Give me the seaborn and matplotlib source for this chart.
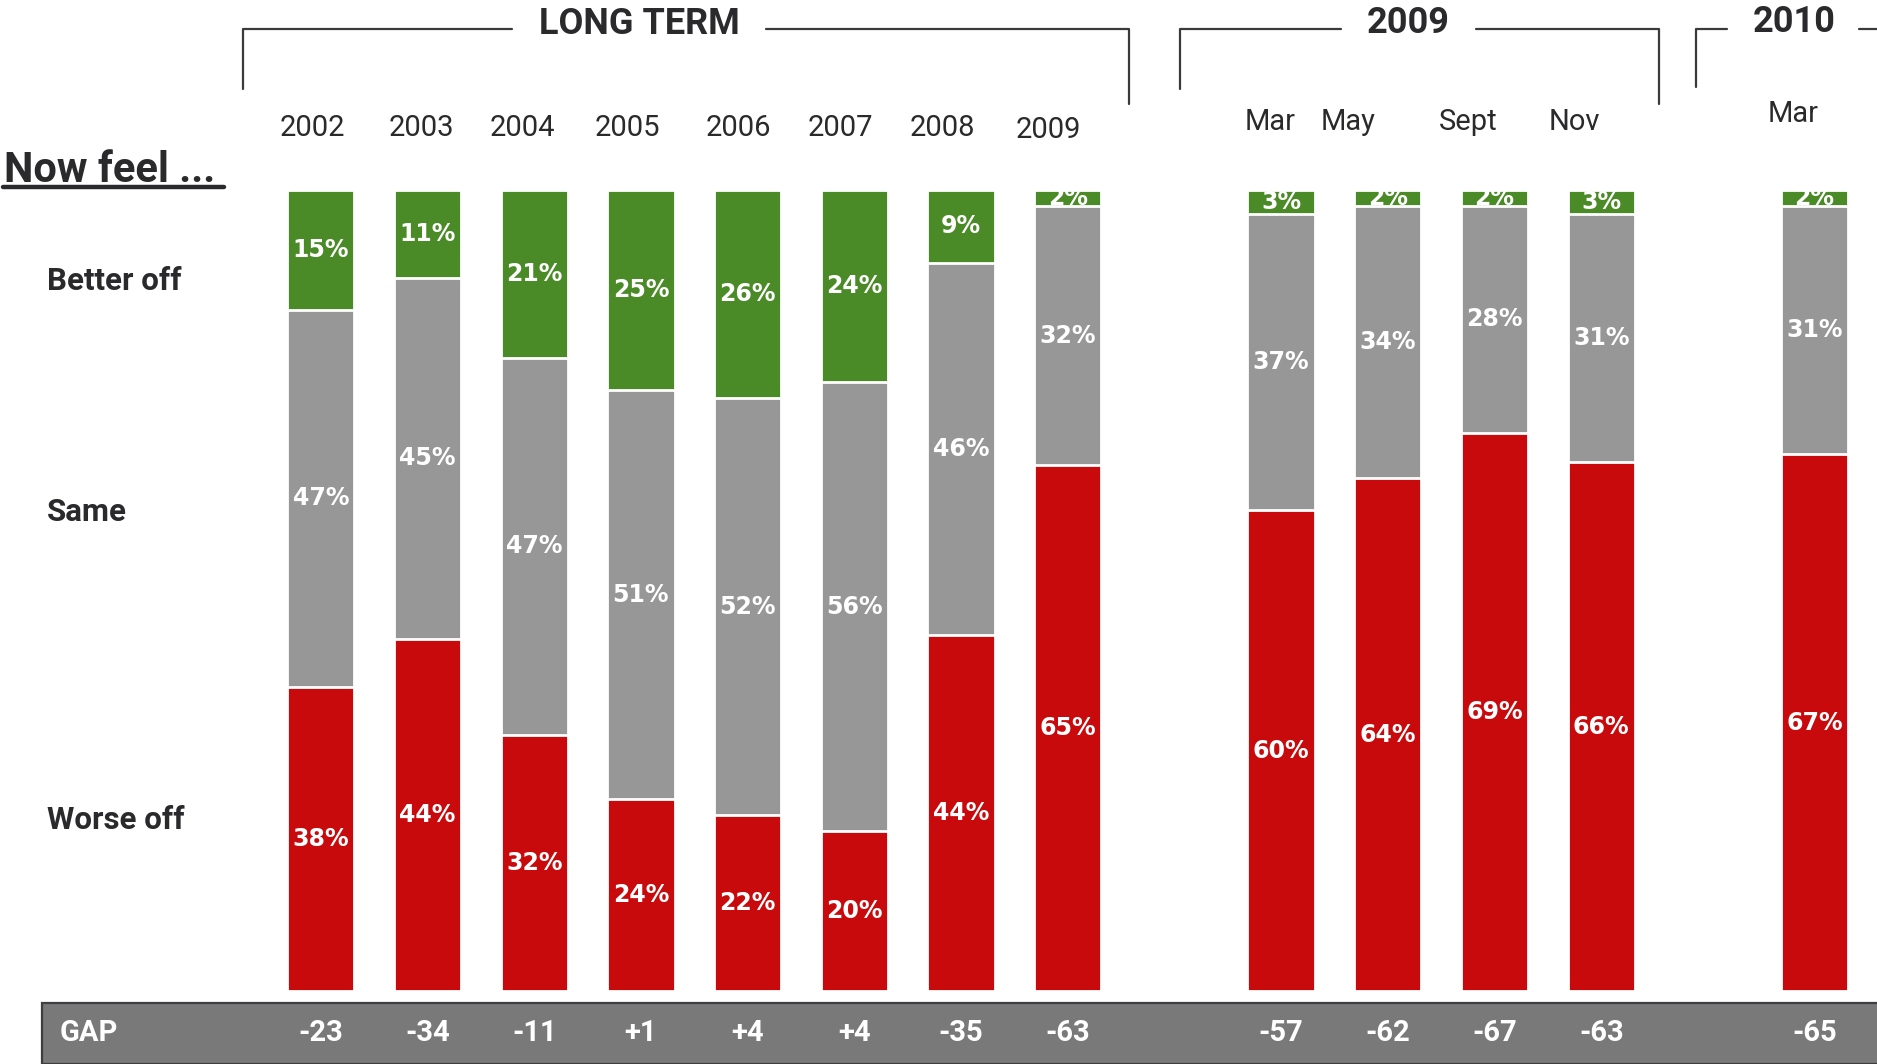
import numpy as np
import pandas as pd
import matplotlib
matplotlib.use("Agg")
import matplotlib.pyplot as plt
import matplotlib.transforms as mtransforms
from matplotlib.patches import Rectangle
from matplotlib.lines import Line2D
import seaborn as sns

# ---- data -------------------------------------------------------------
periods = ["2002", "2003", "2004", "2005", "2006", "2007", "2008", "2009",
           "Mar", "May", "Sept", "Nov", "Mar"]
slots = [0, 1, 2, 3, 4, 5, 6, 7, 9, 10, 11, 12, 14]
better = [15, 11, 21, 25, 26, 24, 9, 2, 3, 2, 2, 3, 2]
same = [47, 45, 47, 51, 52, 56, 46, 32, 37, 34, 28, 31, 31]
worse = [38, 44, 32, 24, 22, 20, 44, 65, 60, 64, 69, 66, 67]
gap = [-23, -34, -11, 1, 4, 4, -35, -63, -57, -62, -67, -63, -65]
row_labels = ["Better off", "Same", "Worse off"]
group_titles = ["LONG TERM", "2009", "2010"]

# ---- style ------------------------------------------------------------
GREEN = "#4a8a27"
GREY = "#979797"
RED = "#c80a0c"
INK = "#2a2a2c"
BAND = "#797979"

sns.set_theme(style="white")
plt.rcParams["font.family"] = ["Roboto", "DejaVu Sans"]

W, H = 1877, 1064
fig = plt.figure(figsize=(W / 100, H / 100), dpi=100)
fig.patch.set_facecolor("white")


def fx(px):
    return px / W


def fy(py):
    return 1 - py / H


# plotting area spans the bars: bottom at y=991px, 100% at y=190px
ax = fig.add_axes([0, fy(991), 1, (991 - 190) / H])

# 100% stacked shares
b = np.array(better, float)
s = np.array(same, float)
w = np.array(worse, float)
tot = b + s + w
b_n, s_n, w_n = b / tot * 100, s / tot * 100, w / tot * 100

df = pd.DataFrame({
    "slot": slots,
    "top": b_n + s_n + w_n,
    "mid": s_n + w_n,
    "low": w_n,
})

for col, color in [("top", GREEN), ("mid", GREY), ("low", RED)]:
    sns.barplot(data=df, x="slot", y=col, native_scale=True, orient="x",
                color=color, saturation=1, width=0.63, edgecolor="white",
                linewidth=2, errorbar=None, ax=ax)

x_left = -320.8 / 106.7
x_right = (W - 320.8) / 106.7
ax.set_xlim(x_left, x_right)
ax.set_ylim(0, 100)
ax.axis("off")
ax.patch.set_visible(False)

# percentage labels inside the segments
for i, x in enumerate(slots):
    segs = [(0, w_n[i], worse[i]), (w_n[i], s_n[i], same[i]),
            (w_n[i] + s_n[i], b_n[i], better[i])]
    for bottom, height, val in segs:
        ax.text(x, bottom + height / 2, f"{val}%", ha="center", va="center",
                color="white", fontsize=17, fontweight="bold",
                family=["DejaVu Sans"], clip_on=True, zorder=5)

# period labels above the bars
label_dx = [-0.08, -0.06, -0.11, -0.13, -0.09, -0.13, -0.17, -0.18,
            -0.10, -0.37, -0.25, -0.25, -0.20]
label_y = [128] * 7 + [130] + [122] * 4 + [114]
tr_top = mtransforms.blended_transform_factory(ax.transData, fig.transFigure)
for x, dx, y, name in zip(slots, label_dx, label_y, periods):
    ax.text(x + dx, fy(y), name, transform=tr_top, ha="center", va="center",
            fontsize=21, color=INK, clip_on=False)

# group headers with brackets
line_kw = dict(color="#3a3a3c", linewidth=1.6, transform=fig.transFigure)
brackets = [
    ([243, 243, 512], [89, 29, 29]),
    ([766, 1129, 1129], [29, 29, 104]),
    ([1180, 1180, 1341], [89, 29, 29]),
    ([1476, 1659, 1659], [29, 29, 104]),
    ([1696, 1696, 1727], [87, 29, 29]),
    ([1859, 1877], [29, 29]),
]
for xs, ys in brackets:
    fig.add_artist(Line2D([fx(v) for v in xs], [fy(v) for v in ys], **line_kw))

for title, (px, py) in zip(group_titles, [(639, 24), (1408, 23), (1794, 22)]):
    fig.text(fx(px), fy(py), title, ha="center", va="center", fontsize=26,
             fontweight="bold", color=INK)

# left-hand captions
fig.text(fx(4), fy(182), "Now feel ...", ha="left", va="baseline",
         fontsize=30, fontweight="bold", color=INK)
fig.add_artist(Line2D([fx(3), fx(224)], [fy(187), fy(187)], color=INK,
                      linewidth=3.2, transform=fig.transFigure))
for name, py in zip(row_labels, [281, 512, 820]):
    fig.text(fx(47), fy(py), name, ha="left", va="center", fontsize=22.5,
             fontweight="bold", color=INK)

# GAP band along the bottom, drawn beneath the axes content
fig.add_artist(Rectangle((fx(42), fy(1064)), fx(W + 20) - fx(42),
                         fy(1003) - fy(1064), transform=fig.transFigure,
                         facecolor=BAND, edgecolor="#3e3e40", linewidth=1.6,
                         zorder=-1))
fig.text(fx(60), fy(1033), "GAP", ha="left", va="center", fontsize=21,
         fontweight="bold", color="white")
for x, g in zip(slots, gap):
    ax.text(x, fy(1033), f"{g:+d}", transform=tr_top, ha="center",
            va="center", fontsize=21, fontweight="bold", color="white",
            clip_on=False, zorder=6)

fig.savefig("out.png", dpi=100, facecolor="white")
